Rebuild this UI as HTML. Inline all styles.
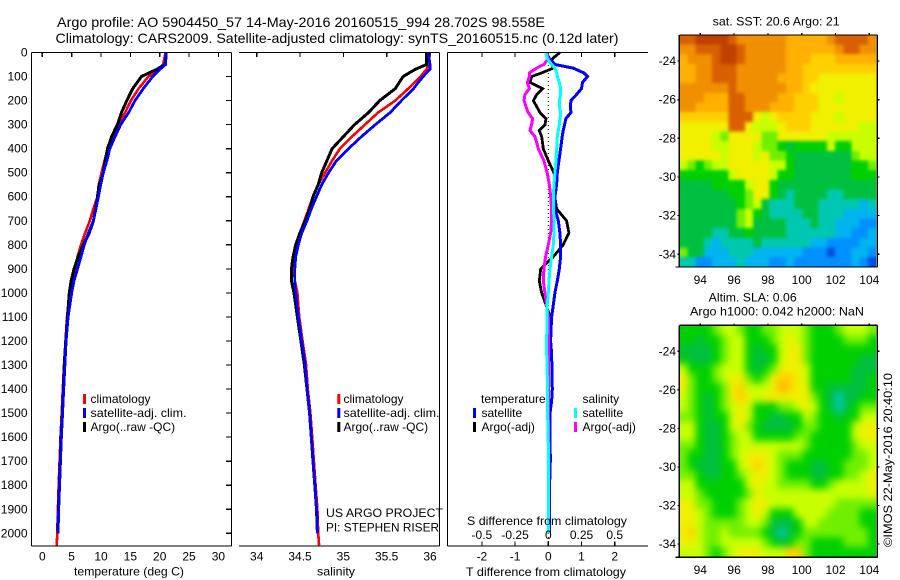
<!DOCTYPE html>
<html><head><meta charset="utf-8"><title>Argo profile</title>
<style>
html,body{margin:0;padding:0;background:#fff}
svg{display:block}
text{font-family:"Liberation Sans",sans-serif;font-size:12px;fill:#000}
.t{font-size:14px}
</style></head><body>
<svg id="fig" xmlns="http://www.w3.org/2000/svg" width="900" height="580" viewBox="0 0 900 580">
<defs>
<filter id="blurSst" filterUnits="userSpaceOnUse" x="650" y="10" width="250" height="280" color-interpolation-filters="sRGB"><feGaussianBlur stdDeviation="1.6"/></filter>
<filter id="blurSla" filterUnits="userSpaceOnUse" x="650" y="300" width="250" height="280" color-interpolation-filters="sRGB"><feGaussianBlur stdDeviation="3.6"/></filter>
<clipPath id="clipSst"><rect x="679.3" y="35" width="196.7" height="232"/></clipPath>
<clipPath id="clipSla"><rect x="679.3" y="325.3" width="196.7" height="232"/></clipPath>
</defs>
<rect width="900" height="580" fill="#fff"/>
<text class="t" x="57" y="27" textLength="488" lengthAdjust="spacingAndGlyphs">Argo profile: AO 5904450_57 14-May-2016 20160515_994 28.702S 98.558E</text>
<text class="t" x="55.5" y="43" textLength="563" lengthAdjust="spacingAndGlyphs">Climatology: CARS2009. Satellite-adjusted climatology: synTS_20160515.nc (0.12d later)</text>
<g clip-path="url(#clipSst)"><g id="heatSst" filter="url(#blurSst)"></g></g>
<g clip-path="url(#clipSla)"><g id="heatSla" filter="url(#blurSla)"></g></g>
<g id="series"></g>
<g id="axes"></g>

<text x="74" y="575.7" textLength="110" lengthAdjust="spacingAndGlyphs">temperature (deg C)</text>
<text x="317" y="575.7" textLength="38" lengthAdjust="spacingAndGlyphs">salinity</text>
<text x="466" y="576" textLength="160" lengthAdjust="spacingAndGlyphs">T difference from climatology</text>
<text x="467" y="525" textLength="160" lengthAdjust="spacingAndGlyphs">S difference from climatology</text>

<text x="326" y="517" textLength="117" lengthAdjust="spacingAndGlyphs">US ARGO PROJECT</text>
<text x="326" y="531.5" textLength="113" lengthAdjust="spacingAndGlyphs">PI: STEPHEN RISER</text>

<g>
<rect x="83" y="394" width="3" height="10" fill="#f00"/><text x="90.5" y="403">climatology</text>
<rect x="83" y="408" width="3" height="10" fill="#00f"/><text x="90.5" y="417" textLength="96" lengthAdjust="spacingAndGlyphs">satellite-adj. clim.</text>
<rect x="83" y="422" width="3" height="10" fill="#000"/><text x="90.5" y="431">Argo(..raw -QC)</text>
</g>
<g>
<rect x="337.3" y="394" width="3" height="10" fill="#f00"/><text x="343.5" y="403">climatology</text>
<rect x="337.3" y="408" width="3" height="10" fill="#00f"/><text x="343.5" y="417" textLength="96" lengthAdjust="spacingAndGlyphs">satellite-adj. clim.</text>
<rect x="337.3" y="422" width="3" height="10" fill="#000"/><text x="343.5" y="431">Argo(..raw -QC)</text>
</g>
<g>
<text x="481" y="403">temperature</text>
<rect x="473" y="408" width="3" height="10" fill="#00f"/><text x="481.5" y="417">satellite</text>
<rect x="473" y="422" width="3" height="10" fill="#000"/><text x="481.5" y="431">Argo(-adj)</text>
<text x="582.5" y="403">salinity</text>
<rect x="574" y="408" width="3" height="10" fill="#0ff"/><text x="582.5" y="417">satellite</text>
<rect x="574" y="422" width="3" height="10" fill="#f0f"/><text x="582.5" y="431">Argo(-adj)</text>
</g>

<text x="712.7" y="25.7" textLength="127" lengthAdjust="spacingAndGlyphs">sat. SST: 20.6 Argo: 21</text>
<text x="708.7" y="301.7" textLength="88" lengthAdjust="spacingAndGlyphs">Altim. SLA: 0.06</text>
<text x="690" y="315.7" textLength="174" lengthAdjust="spacingAndGlyphs">Argo h1000: 0.042 h2000: NaN</text>
<text transform="translate(892,547) rotate(-90)" textLength="174" lengthAdjust="spacingAndGlyphs">©IMOS 22-May-2016 20:40:10</text>
</svg>
<script>
const profileDepths = [0,50,70,100,150,200,250,300,350,400,450,500,550,600,650,700,750,800,850,900,950,1000,1100,1200,1300,1400,1500,1600,1700,1800,1900,2000,2050];
const tempClim = [21,20.6,19.8,18.1,16.4,15.1,14.1,13,12.3,11.25,10.6,10.1,9.6,9.4,8.7,8.1,7.3,6.6,6,5.6,5.1,4.7,4.2,3.95,3.7,3.5,3.3,3.1,2.95,2.8,2.65,2.55,2.45];
const tempSat = [21.1,21,20.05,18.8,17.2,15.8,14.7,13.35,12.4,11.5,11,10.4,9.95,9.55,9.15,8.7,7.85,7.15,6.6,6,5.4,5,4.4,4.05,3.85,3.65,3.45,3.25,3.1,2.95,2.8,2.7,null];
const tempArgo = [21.1,20.9,19.5,16.9,15.4,14.4,13.5,12.8,11.8,11.1,10.7,10.4,9.7,9.4,9.1,8.7,8,7,6.1,5.4,4.9,4.6,4.3,4,3.75,3.6,3.4,3.2,3.05,2.9,2.75,2.65,null];
const salClim = [36,35.98,35.96,35.89,35.75,35.6,35.4,35.25,35.1,34.96,34.87,34.79,34.71,34.65,34.6,34.55,34.5,34.46,34.44,34.43,34.44,34.47,34.49,34.53,34.57,34.59,34.62,34.64,34.66,34.68,34.7,34.71,34.72];
const salSat = [35.98,36,36,35.92,35.81,35.67,35.54,35.37,35.21,35.06,34.92,34.83,34.75,34.69,34.63,34.58,34.52,34.48,34.45,34.44,34.44,34.45,34.48,34.52,34.56,34.58,34.61,34.63,34.65,34.67,34.69,34.7,null];
const salArgo = [35.96,35.96,35.83,35.69,35.6,35.42,35.29,35.13,35,34.87,34.81,34.75,34.71,34.65,34.61,34.56,34.5,34.45,34.42,34.4,34.4,34.43,34.47,34.51,34.55,34.58,34.61,34.63,34.65,34.67,34.69,34.7,null];

const diffDepths = [0,25,50,65,85,100,125,150,175,200,225,250,275,300,325,350,400,450,500,550,600,650,700,750,800,850,900,950,1000,1050,1100,1200,1250,1400,1450,1500,1700,1800,2000];
const tDiffSat = [-0.07,0.03,0.2,0.75,1.07,1.18,1.03,1,0.85,0.68,0.67,0.68,0.53,0.49,0.45,0.42,0.37,0.32,0.27,0.25,0.2,0.2,0.3,0.35,0.37,0.37,0.33,0.27,0.2,0.15,0.1,0.07,0.1,0.12,0.1,0.05,0.06,0.04,0.04];
const tDiffArgo = [0.35,0.13,0.1,0.15,-0.2,-0.5,-0.55,-0.17,-0.35,-0.45,-0.35,-0.25,-0.07,-0.1,-0.27,-0.2,-0.15,0,0.17,0.25,0.2,0.25,0.55,0.62,0.45,0.15,-0.23,-0.27,-0.2,-0.07,0.05,0,0,0,0,0,0,0,0];
const sDiffSat = [-0.018,-0.008,0.025,0.05,0.063,0.068,0.083,0.093,0.093,0.083,0.083,0.093,0.088,0.083,0.075,0.068,0.063,0.058,0.05,0.043,0.038,0.038,0.045,0.043,0.038,0.025,0.013,0.005,0,-0.008,-0.008,-0.013,-0.012,-0.005,-0.005,-0.005,0.003,0.003,0.003];
const sDiffArgo = [-0.018,0,-0.033,-0.088,-0.143,-0.143,-0.158,-0.143,-0.176,-0.183,-0.168,-0.151,-0.118,-0.126,-0.138,-0.1,-0.075,-0.033,-0.008,0.008,0.018,0.025,0.025,0.018,0,-0.02,-0.033,-0.038,-0.025,-0.013,0,0,0,0,0,0,0,0,0];

const depthTicks = [0,100,200,300,400,500,600,700,800,900,1000,1100,1200,1300,1400,1500,1600,1700,1800,1900,2000];
const tempTicks = [0,5,10,15,20,25,30];
const salTicks = [34,34.5,35,35.5,36];
const salTickLabels = ["34","34.5","35","35.5","36"];
const tDiffTicks = [-2,-1,0,1,2];
const sDiffTicks = [-0.5,-0.25,0,0.25,0.5];
const sDiffTickLabels = ["-0.5","-0.25","0","0.25","0.5"];
const lonTicks = [94,96,98,100,102,104];
const latTicks = [-24,-26,-28,-30,-32,-34];

const levelColors = ["#0050e0","#0090ff","#00b4f0","#00c8b0","#00c040","#00d000","#70f000","#c8ff00","#f0f000","#ffd000","#ffb000","#f09000","#d86000","#c04000"];
const sstLevels = [
[12,12,13,13,13,13,12,11,11,11,11,11,11,10,10,10,10,10,11,12,12,12,12,11],
[11,11,12,12,12,13,13,12,11,11,11,11,11,10,10,10,10,10,10,11,12,12,11,11],
[10,11,11,11,12,13,13,12,11,11,11,11,11,10,10,10,9,9,9,10,10,10,10,10],
[10,10,11,11,12,12,12,11,11,11,11,11,11,10,10,9,9,9,9,9,9,9,9,9],
[10,10,11,11,12,12,12,11,11,11,11,11,10,10,10,9,9,8,8,8,8,8,8,8],
[11,11,11,11,11,11,12,11,11,11,11,11,11,10,10,9,8,8,8,8,8,8,8,8],
[11,11,11,10,10,10,12,12,11,11,11,11,10,10,9,9,9,8,8,7,8,8,8,8],
[11,11,10,10,10,10,12,12,11,11,11,10,10,10,9,9,9,8,8,8,8,8,8,8],
[9,9,9,9,9,9,12,12,12,8,7,8,9,9,9,9,8,8,8,7,8,8,8,8],
[8,8,8,8,8,8,12,12,8,7,7,7,8,9,9,9,8,8,8,8,8,8,7,7],
[8,8,8,8,7,6,8,8,8,8,6,6,8,8,8,8,8,8,7,7,7,7,7,7],
[8,8,8,8,7,7,8,8,8,7,6,6,5,4,5,5,5,5,7,5,5,7,7,7],
[8,8,8,8,8,7,8,8,8,7,8,6,6,5,4,4,4,4,4,4,4,6,7,7],
[7,6,5,6,7,7,8,8,8,8,8,7,7,5,4,4,4,4,4,4,4,5,5,6],
[5,5,5,5,5,5,7,8,8,8,8,7,5,5,4,4,4,4,4,4,4,5,5,5],
[4,4,4,4,5,5,5,5,7,8,8,5,4,4,4,4,4,4,4,4,4,4,4,4],
[4,4,4,4,4,4,5,5,6,8,8,5,4,3,4,4,4,4,3,3,4,4,4,4],
[4,4,4,4,4,4,4,5,6,7,4,3,3,3,4,4,4,3,3,3,3,3,2,3],
[4,4,4,4,4,4,4,6,7,5,4,3,3,3,3,4,4,3,3,3,2,2,2,2],
[4,4,4,4,4,4,4,6,7,4,4,4,4,3,3,3,4,3,3,2,2,2,1,1],
[4,4,4,4,3,3,4,4,5,4,4,4,4,3,3,3,3,3,3,2,2,1,1,2],
[4,4,4,3,2,3,3,3,3,4,3,3,3,3,3,3,2,2,1,1,1,1,2,2],
[6,4,4,2,2,2,3,3,3,2,2,2,2,2,2,1,1,1,0,1,1,2,2,1],
[3,3,1,1,2,2,2,3,2,2,2,1,1,2,1,1,1,1,1,1,1,2,1,0]
];
const slaLevels = [
[5,5,5,5,6,7,7,6,5,5,6,6,7,7,7,6,5,5,5,6,7,7,7,6],
[5,5,4,5,5,6,7,7,5,5,5,6,7,8,7,6,5,5,5,5,6,6,6,5],
[4,4,4,4,5,6,7,7,5,4,5,5,7,8,8,6,5,5,5,5,5,5,5,5],
[5,4,4,4,5,6,7,7,5,4,4,5,7,8,8,6,5,5,5,5,5,5,4,4],
[7,5,5,5,6,7,7,7,5,4,5,6,8,8,8,7,5,5,5,5,5,4,4,4],
[8,6,5,5,6,7,8,8,6,5,6,8,9,9,8,7,5,5,5,5,5,4,4,5],
[8,6,5,5,5,6,8,9,7,7,7,8,10,9,8,8,5,5,4,4,4,4,4,5],
[7,6,5,4,5,6,8,9,8,7,8,8,8,8,8,8,6,5,4,3,4,4,5,5],
[7,6,5,4,5,6,7,8,7,5,5,5,6,6,7,8,7,5,4,3,4,5,6,6],
[6,6,5,4,5,5,7,8,7,5,5,4,4,5,5,7,6,5,5,4,5,5,7,7],
[7,7,5,4,4,5,7,8,6,5,4,4,4,4,5,6,6,5,5,5,5,7,8,8],
[7,7,5,4,4,5,6,7,7,5,5,5,5,5,6,6,5,5,5,5,5,7,8,8],
[6,6,5,4,4,5,6,7,7,7,7,7,7,7,7,6,5,5,5,5,5,6,7,7],
[6,5,5,4,4,5,6,7,8,8,8,7,6,6,6,5,5,5,5,5,5,6,6,7],
[6,5,4,4,4,5,5,7,8,9,8,7,6,5,5,5,4,4,5,5,6,6,6,7],
[6,6,5,4,4,5,5,6,7,8,8,7,6,5,5,5,4,4,5,5,6,6,7,8],
[7,7,5,5,5,5,5,5,7,8,7,7,6,6,6,6,5,5,6,7,7,7,7,8],
[7,7,6,5,5,5,5,5,6,8,7,7,7,7,7,7,7,7,7,7,7,7,7,8],
[8,8,6,6,5,5,5,6,7,8,8,7,7,7,7,7,7,7,7,6,6,6,6,6],
[8,8,7,6,5,5,5,6,7,8,7,5,5,5,7,7,7,7,6,6,6,6,5,5],
[8,8,7,6,6,6,6,6,7,7,6,4,4,4,5,7,7,6,6,6,6,6,5,5],
[8,9,7,6,6,7,6,6,6,6,5,4,3,4,5,6,6,6,6,6,6,6,6,5],
[8,8,7,6,6,7,7,7,7,7,6,5,4,5,6,6,5,5,5,5,6,6,6,5],
[7,7,7,6,5,6,7,8,8,8,7,7,7,9,9,6,5,5,5,5,5,5,5,5]
];

const NS = "http://www.w3.org/2000/svg";
const yDepth = d => 52.5 + 0.2404 * d;
const xTemp = t => 42.3 + 5.87 * t;
const xSal = s => 256.7 + 86.65 * (s - 34);
const xTDiff = t => 548.3 + 33.2 * t;
const xSDiff = s => 548.3 + 132.8 * s;
const xLon = lon => 700.3 + 16.9 * (lon - 94);
const yLatSst = lat => 61 + 19.33 * (-24 - lat);
const yLatSla = lat => 351.3 + 19.27 * (-24 - lat);
const LON0 = 92.76, DLON = 0.485, LAT0 = -22.65, DLAT = 0.5;
const EDGE_BLEED = 14;

const seriesG = document.getElementById("series");
const axesG = document.getElementById("axes");

function addSeries(name, depths, values, xFn, color, width) {
  const pts = [];
  depths.forEach((d, i) => {
    if (values[i] !== null) pts.push(xFn(values[i]).toFixed(1) + "," + yDepth(d).toFixed(1));
  });
  const el = document.createElementNS(NS, "polyline");
  el.setAttribute("points", pts.join(" "));
  el.setAttribute("fill", "none");
  el.setAttribute("stroke", color);
  el.setAttribute("stroke-width", width);
  el.setAttribute("shape-rendering", "crispEdges");
  
  
  seriesG.appendChild(el);
}
function addLine(name, x1, y1, x2, y2) {
  const el = document.createElementNS(NS, "line");
  el.setAttribute("x1", x1);
  el.setAttribute("y1", y1);
  el.setAttribute("x2", x2);
  el.setAttribute("y2", y2);
  el.setAttribute("stroke", "#000");
  el.setAttribute("stroke-width", 1.2);
  el.setAttribute("shape-rendering", "crispEdges");
  
  
  axesG.appendChild(el);
}
function addLabel(name, str, x, y, anchor) {
  const el = document.createElementNS(NS, "text");
  el.setAttribute("x", x);
  el.setAttribute("y", y);
  el.setAttribute("text-anchor", anchor);
  el.textContent = str;
  
  
  axesG.appendChild(el);
}
function addHeatmap(levels, yFn, name, parent) {
  const rows = levels.length;
  levels.forEach((row, r) => {
    const cols = row.length;
    row.forEach((lev, c) => {
      let x0 = xLon(LON0 + c * DLON), x1 = xLon(LON0 + (c + 1) * DLON);
      let y0 = yFn(LAT0 - r * DLAT), y1 = yFn(LAT0 - (r + 1) * DLAT);
      if (c === 0) x0 -= EDGE_BLEED;
      if (c === cols - 1) x1 += EDGE_BLEED;
      if (r === 0) y0 -= EDGE_BLEED;
      if (r === rows - 1) y1 += EDGE_BLEED;
      const el = document.createElementNS(NS, "rect");
      el.setAttribute("x", x0.toFixed(2));
      el.setAttribute("y", y0.toFixed(2));
      el.setAttribute("width", (x1 - x0 + 0.6).toFixed(2));
      el.setAttribute("height", (y1 - y0 + 0.6).toFixed(2));
      el.setAttribute("fill", levelColors[lev]);
      el.setAttribute("shape-rendering", "crispEdges");
      
      
      parent.appendChild(el);
    });
  });
}

addHeatmap(sstLevels, yLatSst, "sst-cell", document.getElementById("heatSst"));
addHeatmap(slaLevels, yLatSla, "sla-cell", document.getElementById("heatSla"));

addSeries("temperature-climatology-line", profileDepths, tempClim, xTemp, "#f00", 2.6);
addSeries("temperature-argo-line", profileDepths, tempArgo, xTemp, "#000", 3);
addSeries("temperature-satellite-line", profileDepths, tempSat, xTemp, "#00f", 2.8);
addSeries("salinity-climatology-line", profileDepths, salClim, xSal, "#f00", 2.6);
addSeries("salinity-argo-line", profileDepths, salArgo, xSal, "#000", 3);
addSeries("salinity-satellite-line", profileDepths, salSat, xSal, "#00f", 2.8);

const zeroLine = document.createElementNS(NS, "line");
zeroLine.setAttribute("x1", 548.3);
zeroLine.setAttribute("y1", 53);
zeroLine.setAttribute("x2", 548.3);
zeroLine.setAttribute("y2", 546);
zeroLine.setAttribute("stroke", "#000");
zeroLine.setAttribute("stroke-dasharray", "1 3");


seriesG.appendChild(zeroLine);

addSeries("t-difference-argo-line", diffDepths, tDiffArgo, xTDiff, "#000", 2.8);
addSeries("t-difference-satellite-line", diffDepths, tDiffSat, xTDiff, "#00f", 3);
addSeries("s-difference-argo-line", diffDepths, sDiffArgo, xSDiff, "#f0f", 3);
addSeries("s-difference-satellite-line", diffDepths, sDiffSat, xSDiff, "#0ff", 3);

// Profile panel frames
const TOP = yDepth(0), BOT = 546;
addLine("temperature-panel-left-axis", 31.5, TOP, 31.5, BOT);
addLine("temperature-panel-right-axis", 231.5, TOP, 231.5, BOT);
addLine("temperature-panel-top-axis", 31.5, TOP, 231.5, TOP);
addLine("temperature-panel-bottom-axis", 31.5, BOT, 231.5, BOT);
addLine("salinity-panel-right-axis", 439.5, TOP, 439.5, BOT);
addLine("salinity-panel-top-axis", 239, TOP, 439.5, TOP);
addLine("salinity-panel-bottom-axis", 239, BOT, 439.5, BOT);
addLine("difference-panel-left-axis", 447.5, TOP, 447.5, BOT);
addLine("difference-panel-top-axis", 447.5, TOP, 648, TOP);
addLine("difference-panel-bottom-axis", 447.5, BOT, 648, BOT);

depthTicks.forEach(d => {
  addLine("depth-tick", 226, yDepth(d), 231.5, yDepth(d));
  addLabel("depth-tick-label", String(d), 27.5, yDepth(d) + 4, "end");
});
tempTicks.forEach(t => {
  addLine("temperature-tick", xTemp(t), TOP, xTemp(t), TOP + 4.5);
  addLabel("temperature-tick-label", String(t), xTemp(t), 560.7, "middle");
});
salTicks.forEach((s, i) => {
  addLine("salinity-tick", xSal(s), TOP, xSal(s), TOP + 4.5);
  addLabel("salinity-tick-label", salTickLabels[i], xSal(s), 560.7, "middle");
});
tDiffTicks.forEach(t => {
  if (t !== 0) addLine("t-difference-top-tick", xTDiff(t), TOP, xTDiff(t), TOP + 4.5);
  addLine("t-difference-tick", xTDiff(t), BOT - 4.5, xTDiff(t), BOT);
  addLabel("t-difference-tick-label", String(t), xTDiff(t), 560.7, "middle");
});
sDiffTicks.forEach((s, i) => {
  addLabel("s-difference-tick-label", sDiffTickLabels[i], xSDiff(s), 539, "middle");
});

// Map frames
function mapFrame(prefix, top, bottom, yFn, labelY) {
  const L = 679.3, R = 877.3;
  addLine(prefix + "-frame-left", L, top, L, bottom);
  addLine(prefix + "-frame-right", R, top, R, bottom);
  addLine(prefix + "-frame-top", L, top, R, top);
  addLine(prefix + "-frame-bottom", L, bottom, R, bottom);
  addLine(prefix + "-frame-corner-tick", L - 4, bottom, L, bottom);
  lonTicks.forEach(lon => {
    addLine(prefix + "-top-tick", xLon(lon), top - 2, xLon(lon), top);
    addLabel(prefix + "-lon-tick-label", String(lon), xLon(lon), labelY, "middle");
  });
  latTicks.forEach(lat => {
    addLine(prefix + "-left-tick", L - 2, yFn(lat), L, yFn(lat));
    addLine(prefix + "-right-tick", R, yFn(lat), R + 2, yFn(lat));
    addLabel(prefix + "-lat-tick-label", String(lat), 676, yFn(lat) + 4, "end");
  });
}
mapFrame("sst-map", 35, 267, yLatSst, 284);
mapFrame("sla-map", 325.3, 557.3, yLatSla, 574);
</script>
</body></html>
